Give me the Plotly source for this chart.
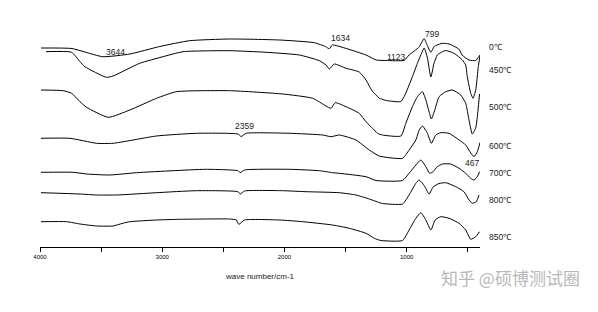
import plotly.graph_objects as go

# wavenumber (cm-1) and intensity (a.u., offset spectra as drawn)
wn_0 = [3992, 3739, 3633, 3486, 3265, 3020, 2776, 2449, 2041, 1755, 1665, 1633, 1608, 1494, 1333, 1249, 1167, 1020, 980, 898, 857, 833, 802, 776, 751, 710, 653, 571, 547, 490, 435, 400]
i_0 = [199, 198.5, 195, 190.3, 193, 200.5, 206.3, 208, 207, 204.3, 200.5, 198.2, 202, 198.5, 192, 187, 186.5, 186.7, 192, 200, 208.5, 202, 194.7, 200.3, 202, 203.7, 203, 197.7, 192, 187, 186.5, 192]

wn_450 = [3951, 3741, 3673, 3633, 3456, 3402, 3184, 2994, 2830, 2449, 2149, 1878, 1714, 1660, 1633, 1592, 1496, 1388, 1333, 1282, 1225, 1167, 1047, 1008, 953, 912, 884, 857, 830, 802, 776, 749, 708, 680, 612, 544, 517, 504, 476, 457, 435, 414, 400]
i_450 = [195.3, 194.7, 185.3, 180.3, 169.7, 171, 183.7, 190.3, 195.3, 196.3, 194.7, 192, 186.3, 182, 178, 183, 178.7, 175, 167, 156, 149, 146.5, 145.5, 153.7, 170.3, 183.7, 192, 199, 189, 170, 183.7, 192, 195.3, 196.5, 193.7, 187, 182, 170.3, 153.7, 148.7, 157, 180.3, 191]

wn_500 = [3992, 3810, 3741, 3673, 3619, 3442, 3265, 3047, 2884, 2449, 2014, 1769, 1660, 1619, 1584, 1496, 1388, 1333, 1279, 1238, 1198, 1047, 1007, 953, 912, 871, 843, 816, 798, 770, 735, 680, 626, 558, 517, 490, 463, 435, 416, 404]
i_500 = [157, 156.3, 153.7, 145.3, 139.7, 129.7, 137, 148.7, 155.3, 156.3, 153, 148.7, 141, 138.7, 144.3, 140.3, 133.7, 125.3, 118.7, 113.7, 112, 111, 123.7, 140.3, 150.3, 155.3, 147, 135, 128, 137, 150.3, 155.3, 157, 152, 143.7, 127, 113, 119, 137, 153]

wn_600 = [3992, 3755, 3537, 3402, 3047, 2721, 2381, 2354, 2313, 1959, 1687, 1619, 1551, 1415, 1306, 1225, 1034, 980, 925, 898, 871, 830, 798, 762, 721, 653, 571, 517, 476, 449, 422, 400]
i_600 = [108.7, 108.7, 103.7, 103.7, 111, 113.7, 113, 110.5, 113.7, 113.7, 112, 110.3, 112, 107, 97, 91, 88.7, 97, 107, 117, 121, 113.7, 103.7, 112, 114.3, 113.7, 107, 102, 94, 90.3, 95.3, 104.5]

wn_700 = [3992, 3728, 3619, 3429, 3211, 2912, 2639, 2381, 2362, 2327, 1959, 1714, 1606, 1551, 1333, 1251, 1034, 980, 925, 884, 843, 812, 784, 749, 708, 640, 571, 517, 476, 449, 422, 403]
i_700 = [74.7, 74.7, 73, 72, 74.3, 76.3, 77.7, 76.3, 74.3, 77, 77.7, 76.3, 74.3, 73.7, 70.3, 66.5, 66.5, 73.7, 82, 87, 80.3, 73.7, 75.3, 80.3, 83, 83, 78.7, 73.7, 68.7, 67, 70.3, 75.3]

wn_800 = [3992, 3673, 3537, 3374, 3047, 2721, 2381, 2362, 2327, 2014, 1823, 1551, 1415, 1306, 1238, 1198, 1034, 980, 925, 898, 857, 816, 784, 735, 680, 598, 531, 490, 463, 430, 408]
i_800 = [54.3, 53, 52, 52, 54.3, 56.3, 55.3, 53, 56, 56.3, 55.3, 54.3, 52, 48, 45, 43.5, 43, 52, 63.7, 67, 61.5, 53, 60, 63.5, 64.3, 60.3, 55.3, 47, 43.7, 45.3, 52]

wn_850 = [3992, 3782, 3673, 3537, 3402, 3330, 3265, 3047, 2857, 2449, 2394, 2373, 2327, 2041, 1851, 1606, 1469, 1333, 1265, 1211, 1034, 980, 925, 884, 843, 802, 767, 721, 653, 571, 517, 476, 435, 403]
i_850 = [25.3, 25.3, 23, 21, 21, 23.5, 25.3, 27, 27.7, 28, 27, 22.7, 27, 27, 25.3, 22, 18.7, 13.7, 8.7, 6.5, 6.5, 17, 28.7, 34.3, 27, 17, 27, 30.3, 28.7, 23.7, 17, 7.7, 10.3, 15.3]

series = [
    ("0℃", wn_0, i_0, 200.3),
    ("450℃", wn_450, i_450, 177),
    ("500℃", wn_500, i_500, 139.7),
    ("600℃", wn_600, i_600, 101),
    ("700℃", wn_700, i_700, 73.7),
    ("800℃", wn_800, i_800, 47),
    ("850℃", wn_850, i_850, 10.3),
]

# peak labels: text, wavenumber, intensity position
peak_text = ["3644", "1634", "1123", "799", "2359", "467"]
peak_wn = [3384, 1543, 1082, 789, 2327, 465]
peak_i = [194.7, 208.7, 189.7, 212.7, 121.3, 83.7]

tick_vals = [4000, 3500, 3000, 2500, 2000, 1500, 1000, 500]
tick_text = ["4000", "", "3000", "", "2000", "", "1000", ""]

FONT = "Liberation Sans, Arial, sans-serif"

fig = go.Figure()
for name, x, y, _ in series:
    fig.add_trace(go.Scatter(x=x, y=y, mode="lines", name=name,
                             line=dict(color="black", width=1, shape="spline", smoothing=0.5),
                             hoverinfo="skip", showlegend=False))

annotations = []
for t, x, y in zip(peak_text, peak_wn, peak_i):
    annotations.append(dict(x=x, y=y, xref="x", yref="y", text=t, showarrow=False,
                            font=dict(family=FONT, size=8.5, color="#222"),
                            xanchor="center", yanchor="middle"))
for name, _, _, ly in series:
    annotations.append(dict(x=1.016, y=ly, xref="paper", yref="y", text=name, showarrow=False,
                            font=dict(family=FONT, size=8.5, color="#222"),
                            xanchor="left", yanchor="middle"))
annotations.append(dict(x=0.907, y=-0.125, xref="paper", yref="paper", text="知乎 @硕博测试圈",
                        showarrow=False, font=dict(family="Noto Sans CJK SC", size=17, color="#b8b8b8"),
                        xanchor="left", yanchor="middle"))

fig.update_layout(
    width=598, height=312,
    margin=dict(l=40, r=118, t=0, b=65),
    paper_bgcolor="white", plot_bgcolor="white",
    annotations=annotations,
    xaxis=dict(range=[4000, 400], tickvals=tick_vals, ticktext=tick_text,
               showline=True, linecolor="black", linewidth=1,
               ticks="outside", ticklen=4, tickcolor="black", tickwidth=1,
               showgrid=False, zeroline=False,
               tickfont=dict(family=FONT, size=6, color="black"),
               title=dict(text="wave number/cm-1", font=dict(family=FONT, size=8, color="#222"), standoff=14)),
    yaxis=dict(range=[0, 247], visible=False, showgrid=False, zeroline=False),
)

fig.write_html("out.html")
